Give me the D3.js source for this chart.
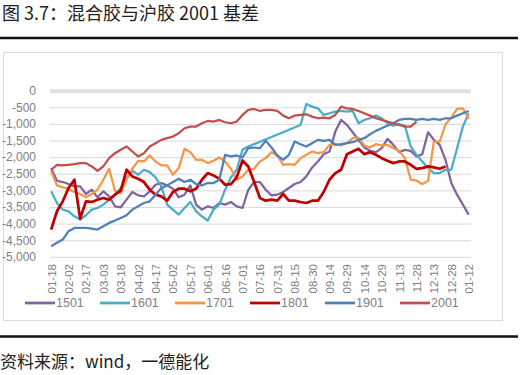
<!DOCTYPE html>
<html>
<head>
<meta charset="utf-8">
<script src="https://cdn.jsdelivr.net/npm/d3@7"></script>
<style>
  body { margin: 0; background: #fff; }
  text { font-family: "Liberation Sans", Arial, sans-serif; }
  .cjk { font-family: "Noto Sans CJK SC", sans-serif; }
</style>
</head>
<body>
<div id="chart"></div>
<script>
// ---------------------------
// DATA (basis, yuan/ton, sampled every 5 days)
// ---------------------------

const dates = [
  "01-18","01-23","01-28","02-02","02-07","02-12","02-17","02-22","02-27","03-03",
  "03-08","03-13","03-18","03-23","03-28","04-02","04-07","04-12","04-17","04-22",
  "04-27","05-02","05-07","05-12","05-17","05-22","05-27","06-01","06-06","06-11",
  "06-16","06-21","06-26","07-01","07-06","07-11","07-16","07-21","07-26","07-31",
  "08-05","08-10","08-15","08-20","08-25","08-30","09-04","09-09","09-14","09-19",
  "09-24","09-29","10-04","10-09","10-14","10-19","10-24","10-29","11-03","11-08",
  "11-13","11-18","11-23","11-28","12-03","12-08","12-13","12-18","12-23","12-28",
  "01-02","01-07","01-12"
];

const xLabels = [
  "01-18","02-02","02-17","03-03","03-18","04-02","04-17","05-02","05-17","06-01",
  "06-16","07-01","07-16","07-31","08-15","08-30","09-14","09-29","10-14","10-29",
  "11-13","11-28","12-13","12-28","01-12"
];

const yTicks = [0, -500, -1000, -1500, -2000, -2500, -3000, -3500, -4000, -4500, -5000];

const s1501 = [
  -2330,-2710,-2750,-2810,-2880,-2880,-3110,-2980,-3210,-3030,-3180,-3480,-3510,-3280,-3050,-3150,-3180,-3030,-2830,-2780,-2850,-2950,-3210,-3130,-2850,
  -3430,-3580,-3480,-3530,-3380,-3430,-3350,-3480,-3530,-2980,-2750,-2750,-2980,-3150,-3130,-3050,-2930,-2810,-2750,-2580,-2310,-2130,-1910,-1830,
  -1230,-880,-1030,-1250,-1480,-1710,-1810,-1850,-1730,-1450,-1630,-1850,-1780,-1810,-1980,-1910,-1250,-1480,-1630,-2080,-2780,-3130,-3430,-3730
];
const s1601 = [
  -3030,-3380,-3580,-3630,-3780,-3880,-3750,-3580,-3530,-3430,-3280,-3130,-2930,-2630,-2410,-2530,-2380,-2450,-2610,-2880,-3430,-3580,-3730,-3530,-3350,
  -3630,-3780,-3910,-3580,-3430,-2980,-2610,-2380,-1780,-1680,null,null,null,null,null,null,null,null,-1030,-400,-480,-530,-730,-680,
  -630,-610,-630,-610,-980,-880,-830,-750,-830,-980,-1050,-1010,-1050,-1680,-1930,-2130,-2330,-2480,-2480,-2380,-2380,-1730,-1080,-680
];
const s1701 = [
  -2430,-2850,-2910,-2950,-3050,-3110,-3210,-3110,-2980,-2680,-2350,-3010,-3080,-2680,-2350,-2110,-2130,-1950,-2130,-2250,-2250,-2530,-2330,-1750,-1850,
  -2080,-2080,-2180,-2110,-2010,-2130,-2350,-2680,-2580,-2380,-2350,-2130,-2030,-1850,-1950,-2230,-2210,-2230,-2030,-1930,-1830,-1880,-1850,-1630,
  -1610,-1650,-1580,-1430,-1410,-1650,-1710,-1610,-1650,-1630,-1730,-1810,-2030,-2680,-2710,-2810,-2710,-1530,-1530,-1010,-810,-550,-530,-850
];
const s1801 = [
  -4180,-3630,-3330,-2930,-2680,-3850,-3330,-3350,-3280,-3230,-3280,-3130,-3010,-2380,-2580,-2650,-2750,-2980,-3130,-3180,-3310,-3050,-2950,-2950,-3030,
  -2950,-2680,-2480,-2550,-2650,-2830,-2810,-2610,-2100,-2280,-2750,-3230,-3310,-3280,-3310,-3110,-3310,-3310,-3350,-3380,-3310,-3310,-3050,-2680,
  -2480,-2380,-1910,-1830,-1750,-1910,-1850,-1930,-2030,-2110,-2180,-2130,-2130,-2230,-2350,-2330,-2280,-2310,-2350,-2280,null,null,null,null
];
const s1901 = [
  -4680,-4580,-4480,-4230,-4130,-4130,-4130,-4150,-4180,-4080,-3980,-3910,-3830,-3750,-3580,-3480,-3380,-3330,-3130,-2930,-2850,-2750,-2650,-2750,-2680,
  -2810,-2850,-2780,-2780,-2680,-1930,-1980,-1950,-2010,-1730,-1710,-1730,-1510,-1710,-1950,-2080,-1930,-1530,-1610,-1680,-1580,-1480,-1510,-1480,
  -1630,-1610,-1580,-1550,-1480,-1430,-1310,-1210,-1130,-1050,-980,-880,-850,-850,-880,-850,-880,-850,-880,-830,-830,-750,-680,-610
];
const s2001 = [
  -2380,-2230,-2250,-2230,-2210,-2180,-2180,-2280,-2410,-2280,-2030,-1880,-1780,-1680,-1830,-1980,-1880,-1680,-1580,-1480,-1430,-1380,-1280,-1130,-1080,
  -1080,-980,-910,-930,-880,-950,-980,-930,-730,-580,-550,-610,-580,-580,-610,-750,-830,-750,-730,-710,-780,-830,-810,-830,
  -730,-480,-530,-550,-610,-680,-750,-830,-880,-930,-980,-1030,-1080,-1080,-930,null,null,null,null,null,null,null,null,null
];

const seriesNames = ["1501", "1601", "1701", "1801", "1901", "2001"];
const seriesValues = [s1501, s1601, s1701, s1801, s1901, s2001];
const seriesColors = ["#8064a2", "#4bacc6", "#f79646", "#c00000", "#4f81bd", "#c0504d"];

// ---------------------------
// CHART
// ---------------------------

const width = 522, height = 375;
const svg = d3.select("#chart")
  .append("svg")
  .attr("width", width)
  .attr("height", height);

svg.append("rect").attr("width", width).attr("height", height).attr("fill", "#fff");

// title, rules, source
svg.append("text")
  .attr("class", "cjk")
  .attr("x", 2).attr("y", 20)
  .attr("font-size", 18)
  .attr("fill", "#222")
  .text("图 3.7：混合胶与沪胶 2001 基差");

svg.append("line")
  .attr("x1", 0).attr("x2", 518).attr("y1", 38).attr("y2", 38)
  .attr("stroke", "#111").attr("stroke-width", 2.5);

svg.append("rect")
  .attr("x", 3.5).attr("y", 52.5).attr("width", 499).attr("height", 268)
  .attr("fill", "none").attr("stroke", "#d9d9d9");

svg.append("line")
  .attr("x1", 0).attr("x2", 518).attr("y1", 336.5).attr("y2", 336.5)
  .attr("stroke", "#111").attr("stroke-width", 2.5);

svg.append("text")
  .attr("class", "cjk")
  .attr("x", 0).attr("y", 368)
  .attr("font-size", 17)
  .attr("fill", "#222")
  .text("资料来源：wind，一德能化");

// month-day strings -> dates (the last January belongs to next year)
const parseDay = d3.timeParse("%Y-%m-%d");
const toDate = (md, i) => parseDay((i > 20 && md.startsWith("01") ? "2021-" : "2020-") + md);

const x = d3.scaleTime()
  .domain([parseDay("2020-01-17"), parseDay("2021-01-14")])
  .range([50, 471]);

const y = d3.scaleLinear()
  .domain([-5000, 0])
  .range([256.8, 90.7]);

// y axis with gridlines
const yAxis = svg.append("g")
  .attr("transform", "translate(50,0)")
  .call(d3.axisLeft(y)
    .tickValues(yTicks)
    .tickSize(-421)
    .tickPadding(14)
    .tickFormat(d => d3.format(",")(d).replace("\u2212", "-")));

yAxis.select(".domain").remove();
yAxis.selectAll("line")
  .attr("stroke-width", d => d === 0 ? 4 : 1)
  .attr("stroke", d => d === 0 ? "#e0e0e0" : "#d9d9d9");
yAxis.selectAll("text")
  .attr("font-size", 12)
  .attr("fill", "#808080");

// x axis labels, rotated
const xAxis = svg.append("g")
  .attr("transform", "translate(0,264)")
  .call(d3.axisBottom(x)
    .tickValues(xLabels.map(toDate))
    .tickSize(0)
    .tickFormat(d3.timeFormat("%m-%d")));

xAxis.select(".domain").remove();
xAxis.selectAll("text")
  .attr("transform", "rotate(-90)")
  .attr("x", 0).attr("y", 0).attr("dy", "0.35em")
  .attr("text-anchor", "end")
  .attr("font-size", 11.5)
  .attr("fill", "#808080");

// series lines (gaps are bridged, like the source chart)
const line = d3.line()
  .x(d => x(d.date))
  .y(d => y(d.value));

seriesNames.forEach((name, k) => {
  const pts = dates
    .map((md, i) => ({ date: toDate(md, i), value: seriesValues[k][i] }))
    .filter(d => d.value !== null);
  svg.append("path")
    .datum(pts)
    .attr("d", line)
    .attr("fill", "none")
    .attr("stroke", seriesColors[k])
    .attr("stroke-width", name === "1801" ? 2.75 : 2.25)
    .attr("stroke-linejoin", "round");
});

// legend
const legend = svg.append("g").attr("transform", "translate(25,303)");
seriesNames.forEach((name, k) => {
  const g = legend.append("g").attr("transform", `translate(${k * 75},0)`);
  g.append("line")
    .attr("x1", 0).attr("x2", 30)
    .attr("stroke", seriesColors[k])
    .attr("stroke-width", 2.75);
  g.append("text")
    .attr("x", 31).attr("dy", "0.35em")
    .attr("font-size", 12.5)
    .attr("fill", "#808080")
    .text(name);
});
</script>
</body>
</html>
